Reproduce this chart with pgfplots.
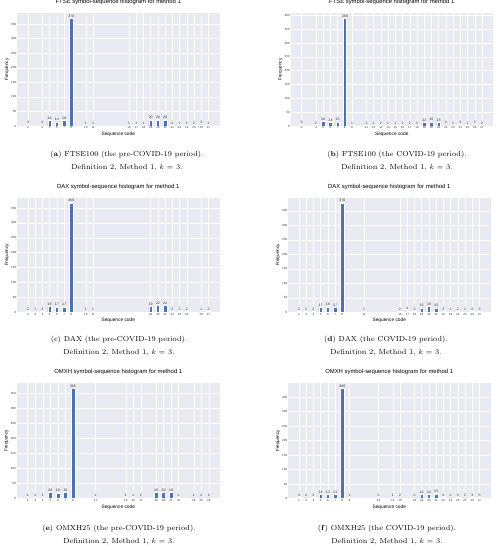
\documentclass[border=0pt]{standalone}
\usepackage{fontspec}
\newfontfamily\plotfont{Liberation Sans}
\usepackage{pgfplots}
\pgfplotsset{compat=1.18}
\definecolor{bgc}{HTML}{EAEAF2}
\definecolor{barc}{HTML}{4C72B0}
\pgfplotsset{
  hist/.style={
    scale only axis, width=202.5pt, height=114pt,
    anchor=south west,
    axis background/.style={fill=bgc},
    axis line style={draw=none},
    grid=major,
    major grid style={white, line width=0.5pt},
    major tick length=0pt,
    ybar, bar width=0.5, bar shift=0pt,
    ymin=0, xmin=0.475, xmax=28.525,
    xtick=data, ytick distance=50,
    /pgf/number format/assume math mode=true,
    ticklabel style={font=\plotfont\fontsize{3}{3.5}\selectfont, text=black!80, inner sep=0.6pt},
    title style={font=\plotfont\fontsize{5.9}{6.5}\selectfont, at={(0.5,1)}, anchor=south, inner sep=0pt, yshift=1.8pt},
    xlabel={Sequence code}, ylabel={Frequency},
    xlabel style={font=\plotfont\fontsize{4.8}{5.2}\selectfont, at={(axis description cs:0.5,-0.073)}, anchor=center, inner sep=0pt},
    ylabel style={font=\plotfont\fontsize{4.6}{5}\selectfont, at={(axis description cs:-0.049,0.5)}, anchor=center, inner sep=0pt},
    nodes near coords,
    every node near coord/.append style={font=\plotfont\fontsize{3.5}{4}\selectfont, text=black!85, anchor=south, inner sep=0.5pt, yshift=0.5pt},
  },
  hbar/.style={fill=barc, draw=white, line width=0.6pt},
}
\newcommand{\subcap}[4]{%
  \node[font=\fontsize{7.3}{9}\selectfont, anchor=center] at (#1pt,#2pt) {#3};
  \node[font=\fontsize{7.3}{9}\selectfont, anchor=center] at (#1pt,#2pt-13pt) {#4};
}
\begin{document}
\begin{tikzpicture}
\path[use as bounding box] (0pt,0pt) rectangle (498pt,550pt);

% (a)
\begin{axis}[hist, at={(17pt,424pt)}, height=113pt, ymax=388.5, title={FTSE symbol-sequence histogram for method 1}]
\addplot[hbar] coordinates {(2,3)(4,4)(5,18)(6,14)(7,18)(8,370)(10,1)(11,1)(16,1)(17,1)(18,1)(19,20)(20,20)(21,20)(22,2)(23,1)(24,1)(25,2)(26,3)(27,1)};
\end{axis}
% (b)
\begin{axis}[hist, at={(290.5pt,424pt)}, height=113pt, ymax=408.45, title={FTSE symbol-sequence histogram for method 1}]
\addplot[hbar] coordinates {(2,3)(4,2)(5,16)(6,13)(7,15)(8,389)(9,1)(11,2)(12,1)(13,2)(14,1)(15,1)(16,1)(17,2)(18,2)(19,12)(20,15)(21,13)(22,4)(23,1)(24,3)(25,1)(26,3)(27,2)};
\end{axis}
% (c)
\begin{axis}[hist, at={(17pt,237.7pt)}, height=114.5pt, ymax=384.3, title={DAX symbol-sequence histogram for method 1}]
\addplot[hbar] coordinates {(2,2)(3,1)(4,3)(5,19)(6,17)(7,17)(8,366)(10,1)(11,1)(19,19)(20,22)(21,22)(22,2)(23,2)(24,2)(26,1)(27,2)};
\end{axis}
% (d)
\begin{axis}[hist, at={(288pt,237.7pt)}, height=114.5pt, ymax=394.8, title={DAX symbol-sequence histogram for method 1}]
\addplot[hbar] coordinates {(2,2)(3,2)(4,2)(5,17)(6,18)(7,17)(8,376)(11,1)(16,2)(17,4)(18,2)(19,15)(20,19)(21,15)(22,3)(23,1)(24,2)(25,1)(26,2)(27,3)};
\end{axis}
% (e)
\begin{axis}[hist, at={(16.6pt,51.5pt)}, width=203.4pt, height=115.5pt, xmin=0.525, xmax=27.475, ymax=383.25, title={OMXH symbol-sequence histogram for method 1}]
\addplot[hbar] coordinates {(2,1)(3,1)(4,1)(5,20)(6,18)(7,20)(8,365)(11,1)(15,1)(16,1)(17,2)(19,19)(20,20)(21,19)(22,1)(24,2)(25,2)(26,2)};
\end{axis}
% (f)
\begin{axis}[hist, at={(288pt,51.5pt)}, height=115.5pt, ymax=399, title={OMXH symbol-sequence histogram for method 1}]
\addplot[hbar] coordinates {(2,3)(3,2)(4,3)(5,14)(6,13)(7,13)(8,380)(9,1)(13,1)(15,1)(16,2)(18,2)(19,14)(20,14)(21,15)(22,4)(23,2)(24,3)(25,2)(26,3)(27,3)};
\end{axis}

\subcap{127}{395}{(\textbf{a}) FTSE100 (the pre-COVID-19 period).}{Definition 2, Method 1, $k$ = 3.}
\subcap{397}{395}{(\textbf{b}) FTSE100 (the COVID-19 period).}{Definition 2, Method 1, $k$ = 3.}
\subcap{119}{210}{(c) DAX (the pre-COVID-19 period).}{Definition 2, Method 1, $k$ = 3.}
\subcap{386}{210}{(\textbf{d}) DAX (the COVID-19 period).}{Definition 2, Method 1, $k$ = 3.}
\subcap{119}{21}{(\textbf{e}) OMXH25 (the pre-COVID-19 period).}{Definition 2, Method 1, $k$ = 3.}
\subcap{387}{21}{(\textbf{f}) OMXH25 (the COVID-19 period).}{Definition 2, Method 1, $k$ = 3.}
\end{tikzpicture}
\end{document}
